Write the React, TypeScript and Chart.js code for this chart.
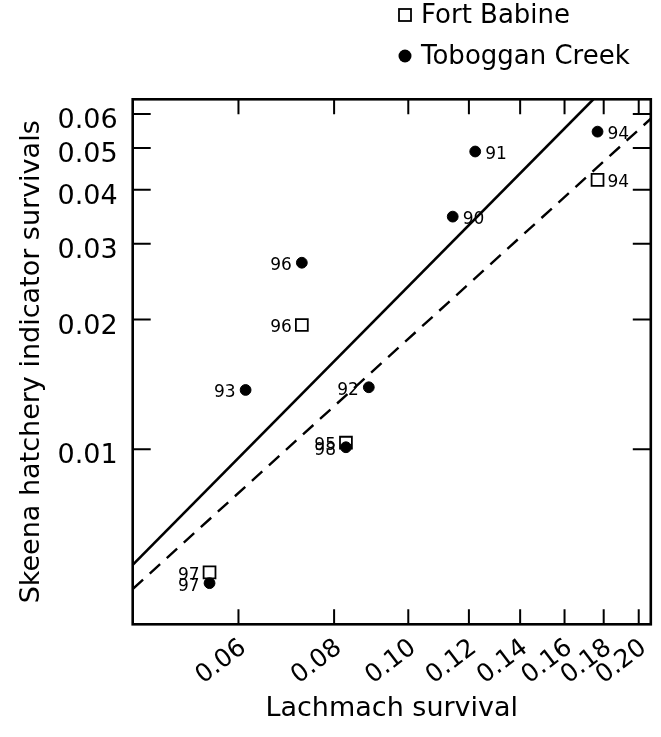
import React, { useEffect, useRef } from 'react';
import { Chart, registerables } from 'chart.js';

Chart.register(...registerables);

// ---- Data ----
const tcYears = ['90', '91', '92', '93', '94', '96', '97', '98'];
const tcX = [0.1143, 0.1223, 0.0888, 0.0613, 0.1767, 0.0726, 0.055, 0.0829];
const tcY = [0.03467, 0.0491, 0.01393, 0.01373, 0.0546, 0.0271, 0.00489, 0.01011];

const fbYears = ['94', '95', '96', '97'];
const fbX = [0.1767, 0.0829, 0.0726, 0.055];
const fbY = [0.0422, 0.01036, 0.01943, 0.00518];

// fitted lines (end points where they meet the frame)
const solidFitX = [0.04365, 0.1745];
const solidFitY = [0.00539, 0.0649];
const dashedFitX = [0.04365, 0.2074];
const dashedFitY = [0.00474, 0.0585];

const xTicks = [0.06, 0.08, 0.1, 0.12, 0.14, 0.16, 0.18, 0.2];
const yTicks = [0.01, 0.02, 0.03, 0.04, 0.05, 0.06];
const xRange = [0.04365, 0.2074];
const yRange = [0.003925, 0.0649];

const FAMILY = '"DejaVu Sans", sans-serif';

const framePlugin = {
  id: 'frameTicks',
  afterDatasetsDraw(chart: any) {
    const { ctx, chartArea } = chart;
    const { left, right, top, bottom } = chartArea;
    const xs = chart.scales.x;
    const ys = chart.scales.y;
    ctx.save();
    ctx.strokeStyle = '#000';
    ctx.lineWidth = 2;
    ctx.beginPath();
    xs.ticks.forEach((t: any) => {
      const px = xs.getPixelForValue(t.value);
      ctx.moveTo(px, bottom);
      ctx.lineTo(px, bottom - 15);
      ctx.moveTo(px, top);
      ctx.lineTo(px, top + 15);
    });
    ys.ticks.forEach((t: any) => {
      const py = ys.getPixelForValue(t.value);
      ctx.moveTo(left, py);
      ctx.lineTo(left + 18, py);
      ctx.moveTo(right, py);
      ctx.lineTo(right - 18, py);
    });
    ctx.stroke();
    ctx.lineWidth = 2.6;
    ctx.strokeRect(left, top, right - left, bottom - top);
    ctx.restore();
  },
};

const pointLabelPlugin = {
  id: 'pointLabels',
  afterDatasetsDraw(chart: any) {
    const { ctx } = chart;
    ctx.save();
    ctx.font = `17px ${FAMILY}`;
    ctx.fillStyle = '#000';
    ctx.textBaseline = 'middle';
    const sets: [number, string[], number[]][] = [
      [0, tcYears, tcX],
      [1, fbYears, fbX],
    ];
    sets.forEach(([di, labels, xs]) => {
      const meta = chart.getDatasetMeta(di);
      meta.data.forEach((el: any, i: number) => {
        const right = xs[i] >= 0.1;
        ctx.textAlign = right ? 'left' : 'right';
        ctx.fillText(labels[i], el.x + (right ? 10 : -10), el.y + 3);
      });
    });
    ctx.restore();
  },
};

const legendPlugin = {
  id: 'cornerLegend',
  afterDraw(chart: any) {
    const { ctx } = chart;
    const ds = chart.data.datasets;
    ctx.save();
    ctx.fillStyle = '#000';
    ctx.strokeStyle = '#000';
    ctx.font = `26px ${FAMILY}`;
    ctx.textBaseline = 'middle';
    ctx.textAlign = 'left';
    // Fort Babine (square)
    ctx.lineWidth = 1.8;
    ctx.strokeRect(399, 9, 12, 12);
    ctx.fillText(ds[1].label, 421, 16);
    // Toboggan Creek (dot)
    ctx.beginPath();
    ctx.arc(405, 56, 6.5, 0, Math.PI * 2);
    ctx.fill();
    ctx.fillText(ds[0].label, 421, 57);
    ctx.restore();
  },
};

export default function App() {
  const ref = useRef<HTMLCanvasElement | null>(null);

  useEffect(() => {
    if (!ref.current) return;
    Chart.defaults.font.family = FAMILY;
    Chart.defaults.color = '#000';
    const chart = new Chart(ref.current, {
      type: 'scatter',
      data: {
        datasets: [
          {
            label: 'Toboggan Creek',
            data: tcX.map((x, i) => ({ x, y: tcY[i] })),
            pointStyle: 'circle',
            pointRadius: 5.4,
            pointBackgroundColor: '#000',
            pointBorderColor: '#000',
            pointBorderWidth: 1,
          },
          {
            label: 'Fort Babine',
            data: fbX.map((x, i) => ({ x, y: fbY[i] })),
            pointStyle: 'rect',
            pointRadius: 8.4,
            pointBackgroundColor: '#fff',
            pointBorderColor: '#000',
            pointBorderWidth: 1.8,
          },
          {
            label: 'fit solid',
            type: 'line',
            data: solidFitX.map((x, i) => ({ x, y: solidFitY[i] })),
            showLine: true,
            borderColor: '#000',
            borderWidth: 2.6,
            pointRadius: 0,
            fill: false,
          },
          {
            label: 'fit dashed',
            type: 'line',
            data: dashedFitX.map((x, i) => ({ x, y: dashedFitY[i] })),
            showLine: true,
            borderColor: '#000',
            borderWidth: 2.4,
            borderDash: [14, 9],
            pointRadius: 0,
            fill: false,
          },
        ],
      } as any,
      options: {
        responsive: false,
        animation: false,
        layout: { padding: { top: 99.3, right: 1, left: 0, bottom: 0 } },
        plugins: { legend: { display: false }, tooltip: { enabled: false } },
        scales: {
          x: {
            type: 'logarithmic',
            min: xRange[0],
            max: xRange[1],
            afterBuildTicks: (s: any) => {
              s.ticks = xTicks.map((v) => ({ value: v }));
            },
            afterFit: (s: any) => {
              s.height = 737 - 624.3;
              s.paddingLeft = 0;
              s.paddingRight = 0;
            },
            grid: { display: false, drawTicks: false },
            border: { display: false },
            ticks: {
              autoSkip: false,
              minRotation: 37,
              maxRotation: 37,
              padding: 9,
              labelOffset: 5,
              color: '#000',
              font: { size: 25, family: FAMILY },
              callback: (v: any) => Number(v).toFixed(2),
            },
            title: {
              display: true,
              text: 'Lachmach survival',
              color: '#000',
              font: { size: 27, family: FAMILY },
              padding: { top: 0, bottom: 12 },
            },
          },
          y: {
            type: 'logarithmic',
            min: yRange[0],
            max: yRange[1],
            afterBuildTicks: (s: any) => {
              s.ticks = yTicks.map((v) => ({ value: v }));
            },
            afterFit: (s: any) => {
              s.width = 132.7;
              s.paddingTop = 0;
              s.paddingBottom = 0;
            },
            grid: { display: false, drawTicks: false },
            border: { display: false },
            ticks: {
              autoSkip: false,
              padding: 15,
              labelOffset: 7,
              color: '#000',
              font: { size: 27, family: FAMILY },
              callback: (v: any) => Number(v).toFixed(2),
            },
            title: {
              display: true,
              text: 'Skeena hatchery indicator survivals',
              color: '#000',
              font: { size: 27, family: FAMILY },
              padding: { top: 16, bottom: 0 },
            },
          },
        },
      } as any,
      plugins: [framePlugin, pointLabelPlugin, legendPlugin],
    });
    return () => chart.destroy();
  }, []);

  return (
    <div style={{ position: 'fixed', left: 0, top: 0, width: 661, height: 737, background: '#fff' }}>
      <canvas ref={ref} width={661} height={737} style={{ display: 'block' }} />
    </div>
  );
}
